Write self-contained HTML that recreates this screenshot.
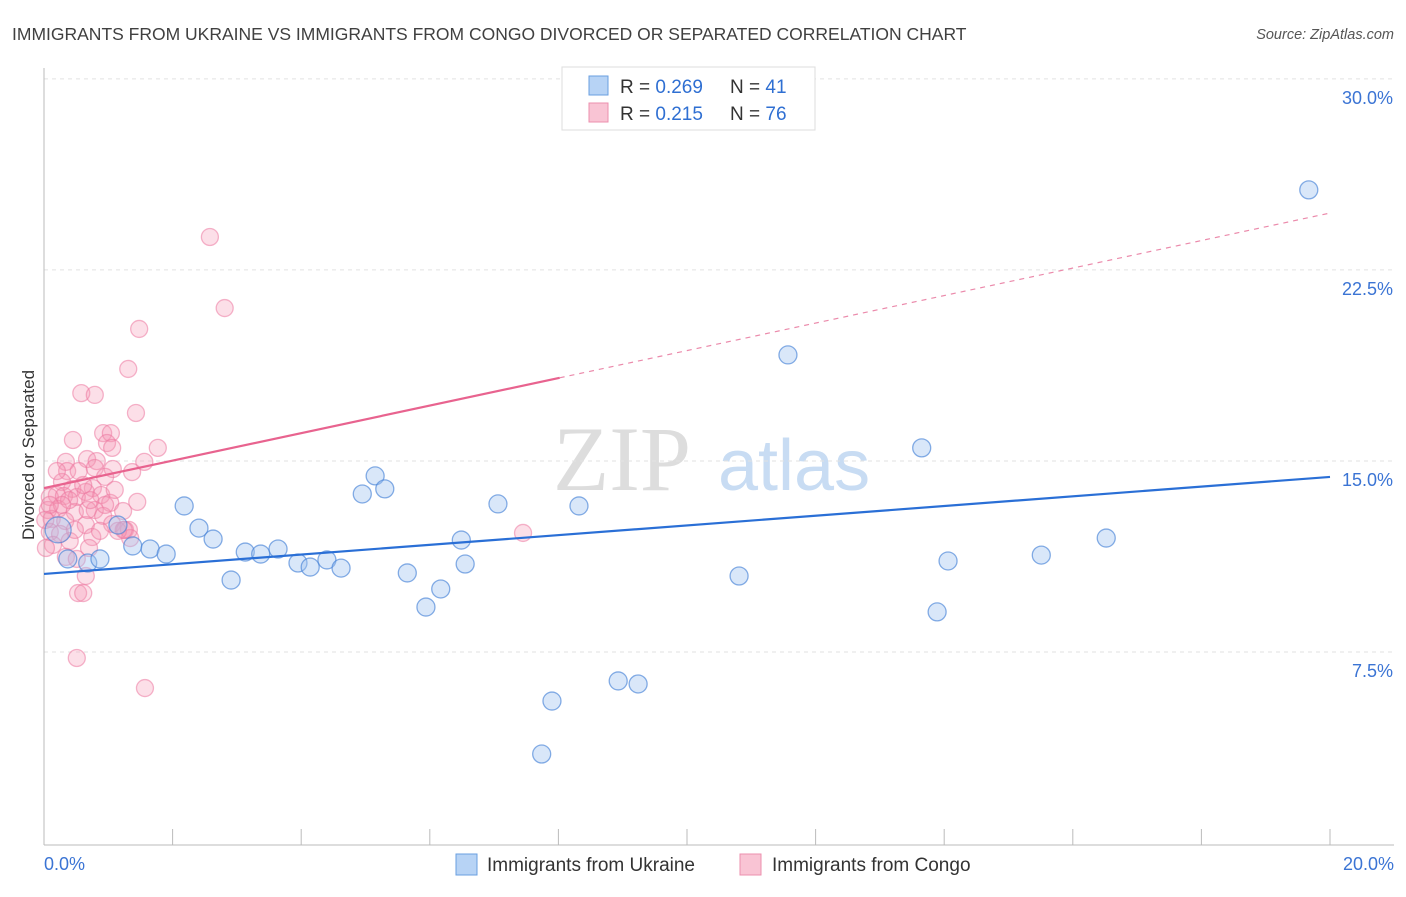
<!DOCTYPE html>
<html><head><meta charset="utf-8"><style>
body{margin:0;background:#fff;font-family:"Liberation Sans",sans-serif}
svg text{font-family:"Liberation Sans",sans-serif}
</style></head><body>
<svg id="c" width="1406" height="892">
<text x="12" y="40" font-size="17.5" fill="#404040">IMMIGRANTS FROM UKRAINE VS IMMIGRANTS FROM CONGO DIVORCED OR SEPARATED CORRELATION CHART</text>
<text x="1394" y="39" font-size="14.5" fill="#555" text-anchor="end" font-style="italic">Source: ZipAtlas.com</text>
<g><text x="553" y="490" font-size="92" fill="#ddd" font-family="Liberation Serif" style="font-family:'Liberation Serif',serif">ZIP</text><text x="718" y="490" font-size="72" fill="#c8dcf3">atlas</text></g>
<g id="grid"></g><g id="axes"></g><g id="pts"></g><g id="lines"></g>
<text transform="translate(34,455) rotate(-90)" font-size="17" fill="#333" text-anchor="middle">Divorced or Separated</text>
<text x="44" y="870" font-size="18" fill="#3b74d4">0.0%</text>
<text x="1394" y="870" font-size="18" fill="#3b74d4" text-anchor="end">20.0%</text>
<g>
<rect x="562" y="67" width="253" height="63" fill="#fff" stroke="#ddd"/>
<rect x="589" y="76" width="19" height="19" fill="#b7d3f5" stroke="#6a9fe0"/>
<rect x="589" y="103" width="19" height="19" fill="#f9c4d4" stroke="#ec8fae"/>
<text x="620" y="93" font-size="19" fill="#333">R = <tspan fill="#2f6fd2">0.269</tspan><tspan x="730">N = </tspan><tspan fill="#2f6fd2">41</tspan></text>
<text x="620" y="120" font-size="19" fill="#333">R =  <tspan fill="#2f6fd2">0.215</tspan><tspan x="730">N = </tspan><tspan fill="#2f6fd2">76</tspan></text>
</g>
<g>
<rect x="456" y="854" width="21" height="21" fill="#b7d3f5" stroke="#6a9fe0"/>
<text x="487" y="871" font-size="19" fill="#333">Immigrants from Ukraine</text>
<rect x="740" y="854" width="21" height="21" fill="#f9c4d4" stroke="#ec8fae"/>
<text x="772" y="871" font-size="19" fill="#333">Immigrants from Congo</text>
</g>
</svg>
<script>
const yTicks=[7.5,15,22.5,30];
const yTickLabels=["7.5%","15.0%","22.5%","30.0%"];
const xTicks=[0,2,4,6,8,10,12,14,16,18,20];
const ukraineX=[.37,.68,.87,.22,1.38,1.65,1.90,2.18,2.41,2.63,2.91,3.13,3.37,3.64,3.95,4.14,4.40,4.62,4.95,5.15,5.30,5.65,5.94,6.17,6.49,6.55,7.06,7.90,7.74,8.32,8.93,9.24,10.81,11.57,13.65,13.89,14.06,15.51,16.52,19.67,1.15];
const ukraineY=[11.86,11.70,11.86,13.00,12.37,12.25,12.05,13.94,13.07,12.64,11.03,12.13,12.05,12.25,11.70,11.54,11.82,11.50,14.41,15.12,14.61,11.31,9.97,10.68,12.60,11.66,14.02,6.28,4.20,13.94,7.07,6.95,11.19,19.87,16.22,9.78,11.78,12.01,12.68,26.35,13.19];
const congoX=[2.58,2.81,1.48,1.31,.58,.79,1.43,.92,1.04,.45,1.77,.98,1.06,.34,.67,.82,1.56,1.37,.36,.54,.79,1.07,.95,.28,.44,.76,.20,.09,.31,.65,.89,.51,1.03,1.45,.06,.22,.48,.79,.92,1.23,.12,.33,.65,1.06,1.26,1.32,.09,.25,.40,.75,1.34,.70,.14,.03,.34,.51,.65,.53,.61,.51,1.57,7.45,1.15,.87,.20,.39,.68,1.24,.28,.09,.48,.95,.72,.02,.61,1.10];
const congoY=[24.50,21.71,20.89,19.32,18.37,18.30,17.59,16.80,16.80,16.53,16.22,16.41,16.22,15.67,15.78,15.70,15.67,15.27,15.31,15.31,15.43,15.39,15.08,14.88,14.61,14.64,14.37,14.29,14.33,14.49,14.37,14.29,14.06,14.10,13.78,13.82,13.70,13.78,13.55,13.74,13.43,13.35,13.19,13.23,13.00,13.00,12.92,12.84,12.56,12.72,12.68,12.29,12.41,12.29,11.94,11.86,11.19,10.52,10.52,7.97,6.79,12.88,12.96,12.96,15.31,14.17,13.78,13.00,13.98,13.98,13.00,13.98,14.17,13.39,14.76,14.57];
const ukraineTrend=[11.27,15.08];
const congoTrend=[14.64,25.44];
const congoSolidEnd=8.02;
const NS="http://www.w3.org/2000/svg";
const X=v=>44+v*64.3;
const Y=v=>861-v*25.47;
function mk(t,a,p){const e=document.createElementNS(NS,t);for(const k in a)e.setAttribute(k,a[k]);p.appendChild(e);return e;}
const grid=document.getElementById('grid'),axes=document.getElementById('axes'),pts=document.getElementById('pts'),lines=document.getElementById('lines');
yTicks.forEach((t,i)=>{
 const g=mk('line',{x1:44,x2:1394,y1:Y(t)-18,y2:Y(t)-18,stroke:'#e2e2e2','stroke-dasharray':'4 4'},grid);
 
 
 const l=mk('text',{x:1393,y:Y(t)+7,'font-size':18,fill:'#3b74d4','text-anchor':'end'},grid);
 l.textContent=yTickLabels[i];
 
 
});
const ax=mk('line',{x1:44,x2:1394,y1:845,y2:845,stroke:'#bbb'},axes);


const ay=mk('line',{x1:44,x2:44,y1:68,y2:845,stroke:'#bbb'},axes);


xTicks.forEach(t=>{
 const k=mk('line',{x1:X(t),x2:X(t),y1:829,y2:845,stroke:'#bbb'},axes);
 
 
});
congoX.forEach((x,i)=>{
 const c=mk('circle',{cx:X(x),cy:Y(congoY[i]),r:8.5,fill:'rgba(245,150,180,0.3)',stroke:'rgba(236,120,160,0.55)','stroke-width':1.3},pts);
 
 
});
ukraineX.forEach((x,i)=>{
 const c=mk('circle',{cx:X(x),cy:Y(ukraineY[i]),r:i==3?13:9,fill:'rgba(160,195,240,0.4)',stroke:'rgba(70,130,215,0.65)','stroke-width':1.3},pts);
 
 
});
const bl=mk('line',{x1:X(0),y1:Y(ukraineTrend[0]),x2:X(20),y2:Y(ukraineTrend[1]),stroke:'#2a6fd6','stroke-width':2.2},lines);


const cy=v=>congoTrend[0]+(congoTrend[1]-congoTrend[0])*v/20;
const pl=mk('line',{x1:X(0),y1:Y(cy(0)),x2:X(congoSolidEnd),y2:Y(cy(congoSolidEnd)),stroke:'#e8638f','stroke-width':2.2},lines);


const pd=mk('line',{x1:X(congoSolidEnd),y1:Y(cy(congoSolidEnd)),x2:X(20),y2:Y(cy(20)),stroke:'#eb8aab','stroke-width':1.2,'stroke-dasharray':'5 5'},lines);


</script>
</body></html>
